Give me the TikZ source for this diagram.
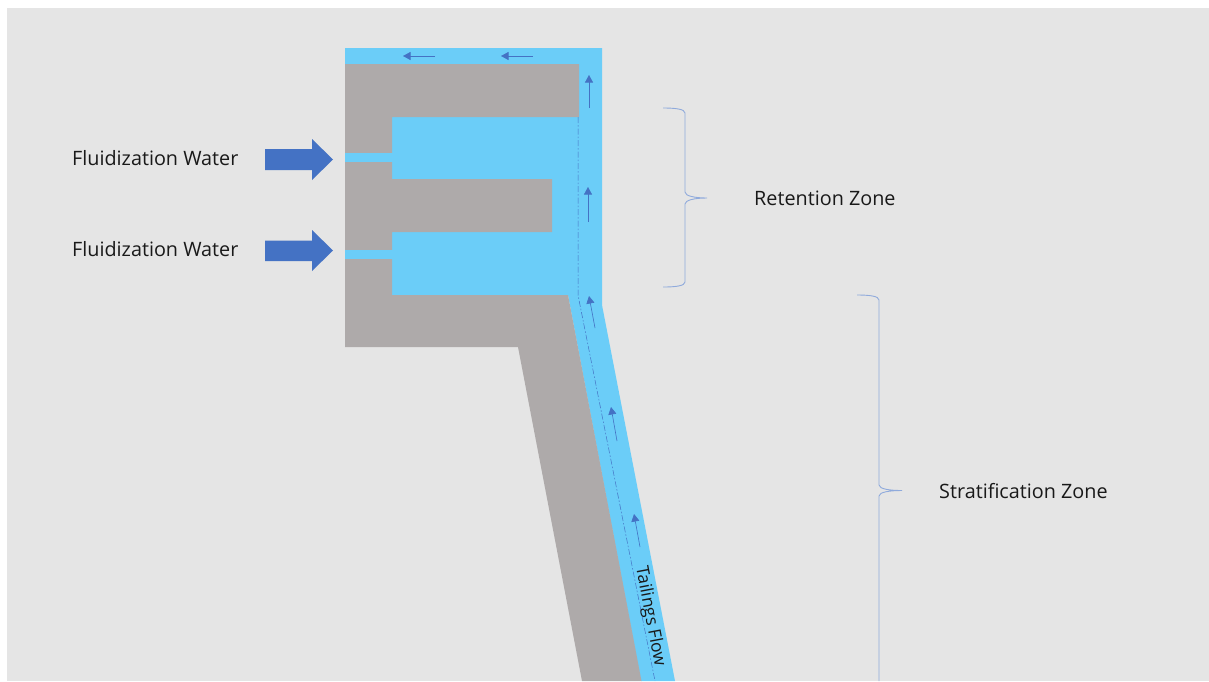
\documentclass[tikz,border=0pt]{standalone}
\usepackage{fontspec}
\setmainfont{Open Sans}
\usetikzlibrary{arrows.meta}
\definecolor{bgc}{HTML}{E5E5E5}
\definecolor{grayb}{HTML}{AEAAAA}
\definecolor{flow}{HTML}{6BCDF8}
\definecolor{arrc}{HTML}{4472C4}
\definecolor{brc}{HTML}{8FAADC}
\tikzset{
  x=1pt,y=-1pt,
  flowarrow/.style={draw=arrc,line width=0.6pt,-{Triangle[length=7.5pt,width=8pt]}},
  bigarrow/.style={fill=arrc,draw=none},
  centerline/.style={draw=arrc,line width=0.5pt,dash pattern=on 6pt off 2pt on 1.5pt off 2pt},
  bracec/.style={draw=brc,line width=0.9pt},
  lbl/.style={font=\fontsize{19.8pt}{23pt}\selectfont,text=black!90,inner sep=0pt},
  lblsmall/.style={font=\fontsize{17.4pt}{20pt}\selectfont,text=black!90,inner sep=0pt},
}
\begin{document}
\begin{tikzpicture}
\useasboundingbox (0,0) rectangle (1209,681);
\clip (0,0) rectangle (1209,681);
\fill[white] (0,0) rectangle (1209,681);
\fill[bgc] (7,8) rectangle (1209,681);
% flow region
\fill[flow] (345,48) -- (602,48) -- (602,305) -- (675,681) -- (641,681) -- (568,295) -- (392,295) -- (392,117) -- (579,117) -- (579,64) -- (345,64) -- cycle;
% gray body
\fill[grayb] (345,64) -- (579,64) -- (579,117) -- (392,117) -- (392,179) -- (552,179) -- (552,232) -- (392,232) -- (392,295) -- (568,295) -- (641.5,681) -- (582,681) -- (518,347) -- (345,347) -- cycle;
% inlet channels
\fill[flow] (345,153) rectangle (392.5,161.5);
\fill[flow] (345,250) rectangle (392.5,258.5);
% centre line
\draw[centerline] (578,117) -- (578,295) -- (655,681);
% flow arrows
\draw[flowarrow] (435,56) -- (403,56);
\draw[flowarrow] (533,56) -- (501,56);
\draw[flowarrow] (589,108) -- (589,75);
\draw[flowarrow] (588,222) -- (588,187);
\draw[flowarrow] (595,328) -- (589,296);
\draw[flowarrow] (617,441) -- (611,407);
\draw[flowarrow] (640,547) -- (634,514);
% big arrows
\fill[bigarrow] (265,149) -- (312,149) -- (312,139) -- (333,159.5) -- (312,180) -- (312,170) -- (265,170) -- cycle;
\fill[bigarrow] (265,240.5) -- (312,240.5) -- (312,230) -- (333,250.5) -- (312,271) -- (312,261) -- (265,261) -- cycle;
% braces
\draw[bracec] (663,108) .. controls (675,108) and (685,109) .. (685,113) -- (685,192) .. controls (685,196) and (695,198) .. (707,198) .. controls (695,198) and (685,200) .. (685,204) -- (685,282) .. controls (685,286) and (675,287) .. (663,287);
\draw[bracec] (857,295) .. controls (869,295) and (879,296) .. (879,300) -- (879,485) .. controls (879,489) and (890,490.5) .. (902,490.5) .. controls (890,490.5) and (879,492) .. (879,496) -- (879,681);
% labels
\node[lbl,anchor=west] (fw1) at (72,158) {Fluidization Water};
\node[lbl,anchor=west] (fw2) at (72,249.5) {Fluidization Water};
\node[lbl,anchor=west] (rz) at (754,198) {Retention Zone};
\node[lbl,anchor=west] (sz) at (939,491) {Stratification Zone};
\node[lblsmall,rotate=-79.2] (tf) at (650,616.5) {Tailings Flow};
\end{tikzpicture}
\end{document}
